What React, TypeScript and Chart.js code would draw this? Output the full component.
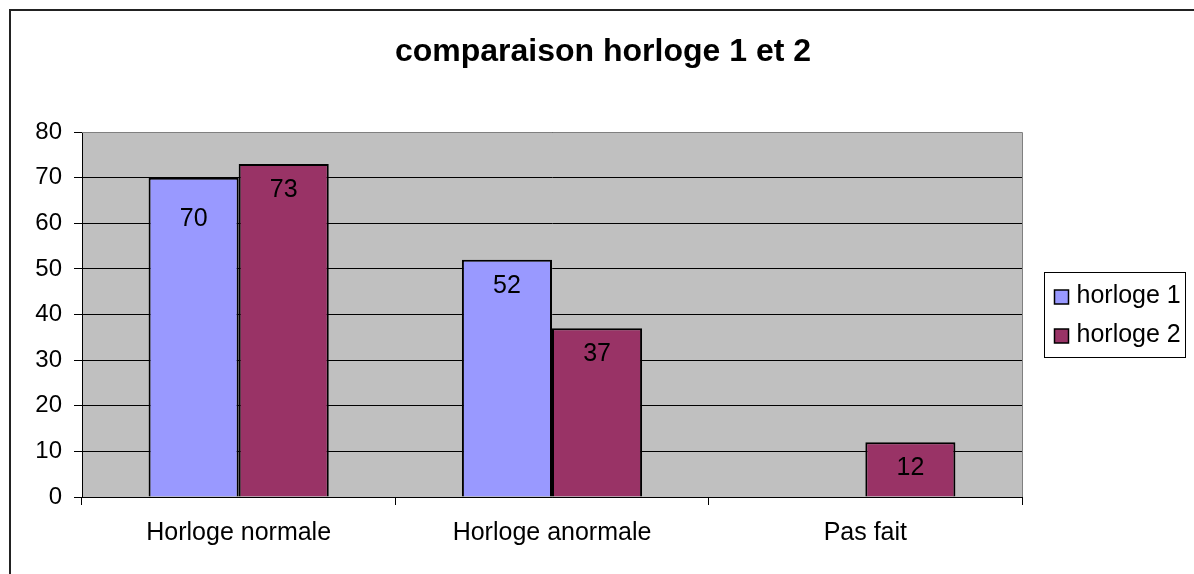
import React, { useEffect, useRef } from "react";
import { Chart, registerables } from "chart.js";

Chart.register(...registerables);

const categories = ["Horloge normale", "Horloge anormale", "Pas fait"];
const seriesNames = ["horloge 1", "horloge 2"];
const horloge1 = [70, 52, null];
const horloge2 = [73, 37, 12];
const seriesColors = ["#9999FF", "#993366"];
const yMin = 0;
const yMax = 80;
const yStep = 10;
const titleText = "comparaison horloge 1 et 2";

const FONT = "'Liberation Sans', Arial, Helvetica, sans-serif";

const framePlugin = {
  id: "excelFrame",
  beforeDraw(chart: any) {
    const { ctx, chartArea: a } = chart;
    ctx.save();
    ctx.fillStyle = "#ffffff";
    ctx.fillRect(0, 0, chart.width, chart.height);
    ctx.fillStyle = "#C0C0C0";
    ctx.fillRect(a.left, a.top, a.right - a.left, a.bottom - a.top);
    ctx.restore();
  },
  beforeDatasetsDraw(chart: any) {
    const { ctx, chartArea: a } = chart;
    ctx.save();
    ctx.strokeStyle = "#808080";
    ctx.lineWidth = 1;
    ctx.beginPath();
    ctx.moveTo(a.left, Math.round(a.top) + 0.5);
    ctx.lineTo(Math.round(a.right) + 0.5, Math.round(a.top) + 0.5);
    ctx.lineTo(Math.round(a.right) + 0.5, a.bottom);
    ctx.stroke();
    ctx.restore();
  },
  afterDraw(chart: any, _args: any, opts: any) {
    const { ctx, chartArea: a } = chart;
    ctx.save();
    // outer frame
    ctx.strokeStyle = "#222";
    ctx.lineWidth = 2;
    ctx.strokeRect(10, 10, chart.width + 20, chart.height + 20);

    // legend
    const w = opts.legendWidth;
    const h = opts.legendHeight;
    const left = Math.round(a.right + opts.legendGap) + 0.5;
    const top = Math.round((a.top + a.bottom) / 2 - h / 2) + 0.5;
    ctx.fillStyle = "#ffffff";
    ctx.fillRect(left, top, w, h);
    ctx.strokeStyle = "#000";
    ctx.lineWidth = 1;
    ctx.strokeRect(left, top, w, h);
    ctx.font = `25px ${FONT}`;
    ctx.textBaseline = "middle";
    ctx.textAlign = "left";
    chart.data.datasets.forEach((ds: any, i: number) => {
      const cy = top + opts.rowFirst + i * opts.rowGap;
      const s = opts.swatch;
      ctx.fillStyle = ds.backgroundColor;
      ctx.fillRect(left + 10, Math.round(cy - s / 2), s, s);
      ctx.strokeStyle = "#000";
      ctx.lineWidth = 1.5;
      ctx.strokeRect(left + 10, Math.round(cy - s / 2), s, s);
      ctx.fillStyle = "#000";
      ctx.fillText(ds.label, left + 32, cy);
    });
    ctx.restore();
  },
};

const valueLabelPlugin = {
  id: "valueLabels",
  afterDatasetsDraw(chart: any, _args: any, opts: any) {
    const { ctx } = chart;
    ctx.save();
    ctx.font = `25px ${FONT}`;
    ctx.fillStyle = "#000";
    ctx.textAlign = "center";
    ctx.textBaseline = "middle";
    chart.data.datasets.forEach((ds: any, di: number) => {
      const meta = chart.getDatasetMeta(di);
      meta.data.forEach((bar: any, i: number) => {
        const v = ds.data[i];
        if (v === null || v === undefined) return;
        const special = opts.overrides?.[`${di}-${i}`];
        const off = special !== undefined ? special : opts.offset;
        ctx.fillText(String(v), bar.x, bar.y + off);
      });
    });
    ctx.restore();
  },
};

export default function App() {
  const ref = useRef<HTMLCanvasElement | null>(null);

  useEffect(() => {
    if (!ref.current) return;
    const chart = new Chart(ref.current, {
      type: "bar",
      data: {
        labels: categories,
        datasets: [
          {
            label: seriesNames[0],
            data: horloge1,
            backgroundColor: seriesColors[0],
            borderColor: "#000",
            borderWidth: 2,
            yAxisID: "y",
          },
          {
            label: seriesNames[1],
            data: horloge2,
            backgroundColor: seriesColors[1],
            borderColor: "#000",
            borderWidth: 2,
            yAxisID: "y",
          },
        ],
      } as any,
      options: {
        responsive: false,
        animation: false,
        events: [],
        layout: { padding: { left: 12, right: 0, top: 0, bottom: 0 } },
        datasets: {
          bar: { barPercentage: 1, categoryPercentage: 0.575 },
        },
        scales: {
          x: {
            offset: true,
            grid: {
              offset: true,
              drawOnChartArea: false,
              drawTicks: true,
              tickLength: 8,
              color: "#000",
            },
            border: { display: true, color: "#000", width: 1 },
            ticks: {
              font: { family: FONT, size: 25 },
              color: "#000",
              padding: 13,
              maxRotation: 0,
            },
            afterFit: (s: any) => {
              s.height = 77;
            },
          },
          y: {
            position: "left",
            min: yMin,
            max: yMax,
            ticks: {
              stepSize: yStep,
              font: { family: FONT, size: 24 },
              color: "#000",
              padding: 12,
            },
            grid: { color: "#000", tickLength: 8, lineWidth: 1 },
            border: { display: true, color: "#000", width: 1 },
            afterFit: (s: any) => {
              s.width = 70;
            },
          },
          yPad: {
            type: "linear",
            position: "right",
            display: true,
            grid: { display: false, drawTicks: false },
            ticks: { display: false },
            border: { display: false },
            afterFit: (s: any) => {
              s.width = 172;
            },
          },
        } as any,
        plugins: {
          legend: { display: false },
          tooltip: { enabled: false },
          title: {
            display: true,
            text: titleText,
            color: "#000",
            font: { family: FONT, size: 32, weight: "bold", lineHeight: 1.2 },
            padding: { top: 33, bottom: 60.6 },
          },
          excelFrame: {
            legendWidth: 141,
            legendHeight: 85,
            legendGap: 22,
            rowFirst: 24,
            rowGap: 39,
            swatch: 14,
          },
          valueLabels: {
            offset: 26,
            overrides: { "0-0": 41 },
          },
        } as any,
      },
      plugins: [framePlugin, valueLabelPlugin],
    });
    return () => chart.destroy();
  }, []);

  return (
    <div style={{ position: "fixed", left: 0, top: 0, width: 1194, height: 574 }}>
      <canvas ref={ref} width={1194} height={574} style={{ display: "block" }} />
    </div>
  );
}
